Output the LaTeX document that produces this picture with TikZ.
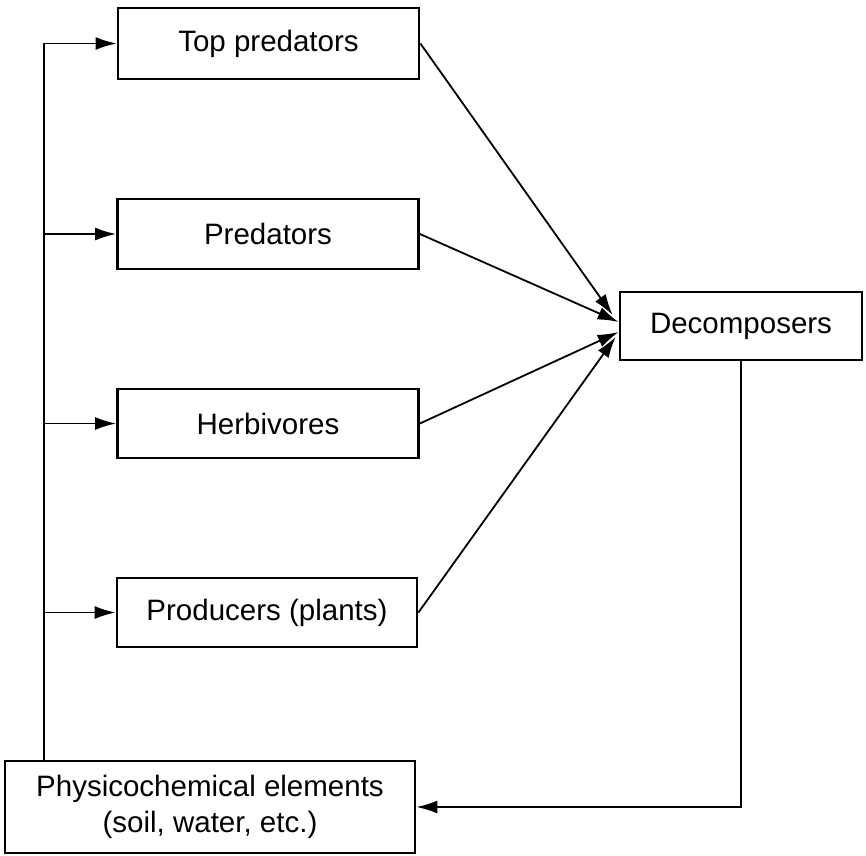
\documentclass[tikz,border=0pt]{standalone}
\usepackage{fontspec}
\setmainfont{Liberation Sans}
\usetikzlibrary{arrows.meta}
\begin{document}
\begin{tikzpicture}[x=1pt,y=-1pt,
  box/.style={draw,line width=2.8pt,rectangle,inner sep=0pt,align=center,
    font=\fontsize{29.5}{36}\selectfont},
  conn/.style={line width=1.8pt},
  arrow/.style={conn,-{Latex[length=21pt,width=13pt]}}]
\useasboundingbox (0,0) rectangle (866,855);
% trophic levels
\node[box,minimum width=301pt,minimum height=71pt] (top) at (268.5,43.5) {Top predators};
\node[box,minimum width=301pt,minimum height=70pt] (pred) at (268,234) {Predators};
\node[box,minimum width=301pt,minimum height=69pt] (herb) at (268,423.5) {Herbivores};
\node[box,minimum width=300pt,minimum height=69pt] (prod) at (267,612.5) {Producers (plants)};
\node[box,minimum width=242pt,minimum height=68pt] (dec) at (741,326) {Decomposers};
\node[box,minimum width=410pt,minimum height=92pt] (phys) at (210,807)
  {Physicochemical elements\\(soil, water, etc.)};
% nutrient supply bus on the left
\coordinate (busx) at (44,0);
\draw[arrow] (phys.north -| busx) |- (top.west);
\draw[arrow] (busx |- pred.west) -- (pred.west);
\draw[arrow] (busx |- herb.west) -- (herb.west);
\draw[arrow] (busx |- prod.west) -- (prod.west);
% flows to the decomposers
\draw[arrow] (top.east) -- ([xshift=-6pt,yshift=11pt]dec.west);
\draw[arrow] (pred.east) -- ([yshift=4pt]dec.west);
\draw[arrow] (herb.east) -- ([yshift=-6pt]dec.west);
\draw[arrow] (prod.east) -- ([xshift=-3pt,yshift=-11pt]dec.west);
% return to the physicochemical pool
\draw[arrow] (dec.south) |- (phys.east);
\end{tikzpicture}
\end{document}
